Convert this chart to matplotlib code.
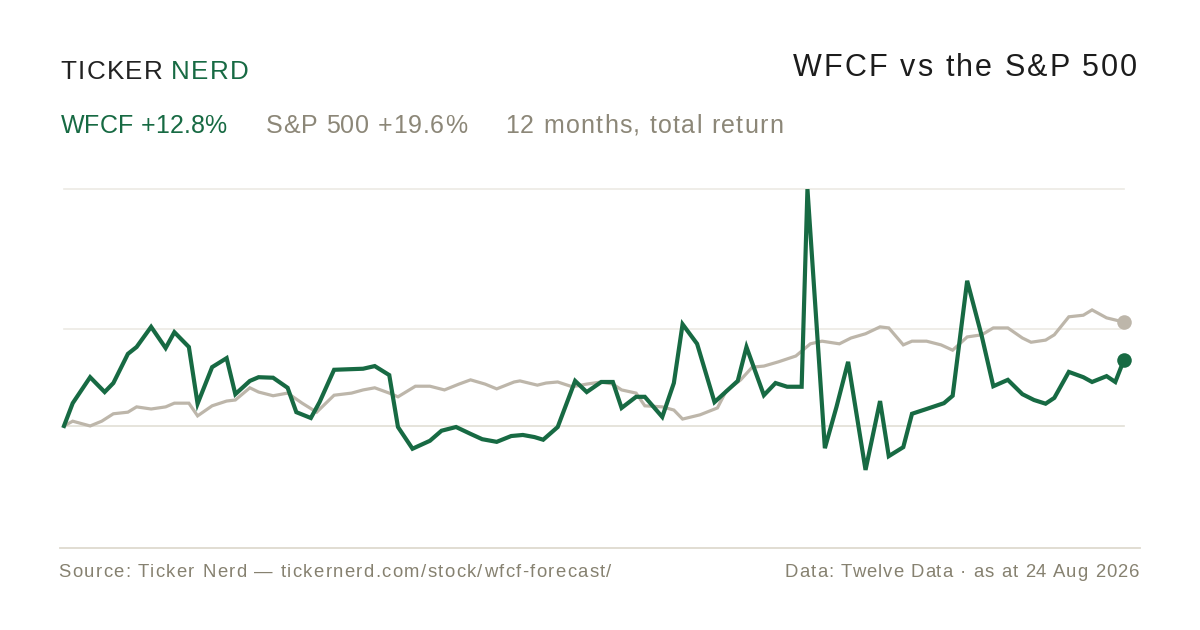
"""
WFCF vs the S&P 500 - 12 month total return line chart (Ticker Nerd style card)
"""

import matplotlib
matplotlib.use("Agg")
import matplotlib.pyplot as plt
from matplotlib.lines import Line2D

# ============================================================
# Data (day of the 12-month window, return in %)
# ============================================================

wfcf_days = [0, 3, 9, 14, 17, 22, 25, 30, 35, 38, 43, 46, 51, 56, 59, 64, 67, 72,
             77, 80, 85, 88, 93, 103, 107, 112, 115, 120, 126, 130, 135, 140, 144,
             149, 154, 158, 162, 165, 170, 176, 180, 185, 189, 192, 197, 200, 206,
             210, 213, 218, 224, 232, 235, 241, 245, 249, 254, 256, 262, 266, 270,
             276, 281, 284, 289, 292, 297, 303, 306, 311, 316, 320, 325, 330, 334,
             338, 341, 346, 351, 354, 359, 362, 365]
wfcf_ret = [0.0, 4.3, 9.2, 6.4, 8.1, 13.6, 14.9, 18.7, 14.7, 17.7, 14.9, 4.2, 11.1,
            12.8, 6.0, 8.5, 9.2, 9.1, 7.2, 2.6, 1.5, 4.5, 10.6, 10.8, 11.3, 9.6, -0.2,
            -4.3, -2.8, -0.9, -0.2, -1.5, -2.5, -3.0, -1.9, -1.7, -2.1, -2.6, -0.2,
            8.5, 6.4, 8.3, 8.3, 3.4, 5.5, 5.5, 1.7, 8.1, 19.2, 15.5, 4.5, 8.5, 14.9,
            5.8, 8.1, 7.4, 7.4, 44.7, -4.2, 3.6, 12.1, -8.3, 4.7, -5.7, -4.0, 2.3,
            3.2, 4.3, 5.7, 27.4, 17.0, 7.5, 8.7, 6.0, 4.9, 4.2, 5.3, 10.2, 9.2, 8.3,
            9.4, 8.3, 12.5]

spx_days = [0, 3, 9, 13, 17, 22, 25, 30, 35, 38, 43, 46, 51, 56, 59, 64, 67, 72,
            77, 82, 87, 93, 99, 103, 107, 112, 115, 121, 126, 131, 136, 140, 145,
            149, 155, 157, 163, 166, 170, 175, 180, 185, 189, 192, 197, 200, 206,
            210, 213, 219, 225, 228, 233, 237, 241, 246, 252, 257, 261, 267, 271,
            276, 281, 284, 289, 292, 297, 302, 306, 311, 316, 320, 325, 330, 333,
            338, 341, 346, 351, 354, 359, 362, 365]
spx_ret = [0.0, 0.9, 0.0, 0.9, 2.3, 2.6, 3.6, 3.2, 3.6, 4.3, 4.3, 1.9, 3.8, 4.7, 4.9,
           7.2, 6.4, 5.7, 6.2, 4.3, 2.6, 5.8, 6.2, 6.8, 7.2, 6.2, 5.5, 7.5, 7.5, 6.8,
           7.9, 8.7, 7.9, 7.0, 8.3, 8.5, 7.7, 8.1, 8.3, 7.4, 7.9, 8.3, 7.9, 6.8, 6.2,
           3.8, 3.6, 3.0, 1.3, 2.1, 3.4, 6.6, 8.7, 11.1, 11.3, 12.1, 13.2, 15.5, 16.0,
           15.5, 16.6, 17.4, 18.7, 18.5, 15.3, 16.0, 16.0, 15.3, 14.3, 16.8, 17.2,
           18.5, 18.5, 16.6, 15.8, 16.2, 17.2, 20.6, 20.9, 21.9, 20.4, 20.0, 19.6]

grid_levels = [0.0, 18.3, 44.7]

title = "WFCF vs the S&P 500"
wfcf_label = "WFCF +12.8%"
spx_label = "S&P 500 +19.6%"
period_label = "12 months, total return"
source_text = "Source: Ticker Nerd \u2014 tickernerd.com/stock/wfcf-forecast/"
data_text = "Data: Twelve Data \u00b7 as at 24 Aug 2026"

# ============================================================
# Style
# ============================================================

GREEN = "#176a43"
GREY_LINE = "#bdb6aa"
GREY_TEXT = "#8c8778"
FOOT_TEXT = "#868170"
DARK = "#1c1c1c"
GRID = "#eceae4"
RULE = "#dedacf"

plt.rcParams["font.family"] = ["Liberation Sans", "DejaVu Sans"]

W, H = 1200, 630
fig = plt.figure(figsize=(12, 6.3), dpi=100)
fig.patch.set_facecolor("white")
renderer = fig.canvas.get_renderer()


def fx(px):
    return px / W


def fy(py):
    return 1 - py / H


def text_width(s, size):
    t = fig.text(0, 0, s, fontsize=size)
    w = t.get_window_extent(renderer=renderer).width
    t.remove()
    return w


def tracked_text(x, y, s, size, color, width, ha="left"):
    """Draw s letter by letter, spread so the ink spans `width` pixels."""
    natural = text_width(s, size)
    track = (width - natural) / (len(s) - 1)
    x0 = x if ha == "left" else x - width
    for i, ch in enumerate(s):
        if ch == " ":
            continue
        off = text_width(s[:i] + ch, size) - text_width(ch, size) if i else 0
        fig.text(fx(x0 + off + i * track), fy(y), ch, fontsize=size,
                 color=color, va="baseline", ha="left")


# plot area: x 64..1124 px, y 189..480 px
ax = fig.add_axes([fx(64), fy(480), fx(1124) - fx(64), fy(189.1) - fy(480)])
ax.set_xlim(0, 365)
ax.set_ylim(-10.2, 44.7)
ax.axis("off")

for lvl in grid_levels:
    ax.axhline(lvl, color=GRID if lvl != 0 else "#e2dfd6", lw=1.2,
               zorder=1, clip_on=False)

ax.plot(spx_days, spx_ret, color=GREY_LINE, lw=2.3, solid_joinstyle="miter",
        zorder=2, clip_on=False)
ax.plot(wfcf_days, wfcf_ret, color=GREEN, lw=3.0, solid_joinstyle="miter",
        zorder=3, clip_on=False)
ax.scatter([spx_days[-1]], [spx_ret[-1]], s=110, color=GREY_LINE, zorder=4,
           clip_on=False, linewidths=0)
ax.scatter([wfcf_days[-1]], [wfcf_ret[-1]], s=110, color=GREEN, zorder=5,
           clip_on=False, linewidths=0)

# ============================================================
# Header
# ============================================================

tracked_text(60.7, 79.3, "TICKER", 18.7, "#222222", 102)
tracked_text(170.7, 79.3, "NERD", 18.7, GREEN, 78)

tracked_text(1137, 76, title, 22, DARK, 344, ha="right")

tracked_text(60.7, 132.7, wfcf_label, 18, GREEN, 166)
tracked_text(266, 132.7, spx_label, 18, GREY_TEXT, 201)
tracked_text(505, 132.7, period_label, 18, GREY_TEXT, 278)

# ============================================================
# Footer
# ============================================================

fig.add_artist(Line2D([fx(60), fx(1140)], [fy(548), fy(548)],
                      color=RULE, lw=1.3))
tracked_text(58.5, 577, source_text, 13.3, FOOT_TEXT, 553)
tracked_text(1139, 577, data_text, 13.3, FOOT_TEXT, 354, ha="right")

fig.savefig("out.png", dpi=100, facecolor="white")
